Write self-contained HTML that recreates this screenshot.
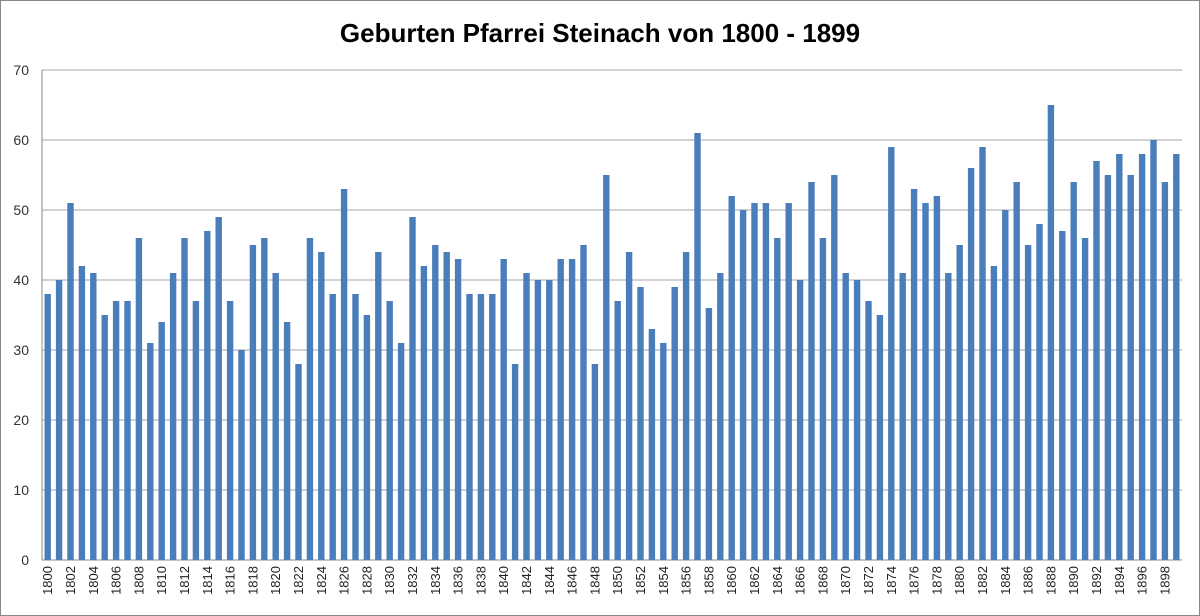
<!DOCTYPE html>
<html><head><meta charset="utf-8"><style>
html,body{margin:0;padding:0;background:#fff}
svg{display:block}
</style></head><body>
<svg id="chart" width="1200" height="616" viewBox="0 0 1200 616" xmlns="http://www.w3.org/2000/svg" font-family="Liberation Sans, sans-serif">
<rect x="0.5" y="0.5" width="1199" height="615" fill="#fff" stroke="#888" stroke-width="1"/>
<text x="600" y="42" text-anchor="middle" font-size="26" font-weight="bold" fill="#000">Geburten Pfarrei Steinach von 1800 - 1899</text>
<g id="grid"></g><g id="bars"></g><g id="yt"></g><g id="xt"></g>
</svg>
<script>
const years = [];
for (let y = 1800; y <= 1899; y++) years.push(y);
const births = [38,40,51,42,41,35,37,37,46,31,34,41,46,37,47,49,37,30,45,46,41,34,28,46,44,38,53,38,35,44,37,31,49,42,45,44,43,38,38,38,43,28,41,40,40,43,43,45,28,55,37,44,39,33,31,39,44,61,36,41,52,50,51,51,46,51,40,54,46,55,41,40,37,35,59,41,53,51,52,41,45,56,59,42,50,54,45,48,65,47,54,46,57,55,58,55,58,60,54,58];
const yTicks = [0,10,20,30,40,50,60,70];

const NS = 'http://www.w3.org/2000/svg';
const L = 42, R = 1182, Y0 = 560, Y1 = 70, YMAX = 70;
const slot = (R - L) / years.length;
const yS = v => Y0 - (v / YMAX) * (Y0 - Y1);
const xS = i => L + slot * (i + 0.5);
function mk(tag, attrs) { const e = document.createElementNS(NS, tag); for (const k in attrs) e.setAttribute(k, attrs[k]); return e; }

const grid = document.getElementById('grid');
const yt = document.getElementById('yt');
yTicks.forEach(t => {
  const ln = mk('line', {x1: L, x2: R, y1: yS(t), y2: yS(t), stroke: t === 0 ? '#888' : '#a6a6a6', 'stroke-width': 1});
  
  
  grid.appendChild(ln);
  const tx = mk('text', {x: 29, y: yS(t) + 5, 'text-anchor': 'end', 'font-size': 14, fill: '#333'});
  tx.textContent = t;
  
  
  yt.appendChild(tx);
});
const axis = mk('line', {x1: L, x2: L, y1: Y1, y2: Y0, stroke: '#888', 'stroke-width': 1});


grid.appendChild(axis);

const bars = document.getElementById('bars');
const xt = document.getElementById('xt');
births.forEach((v, i) => {
  const bw = 6.4;
  const r = mk('rect', {x: xS(i) - bw / 2, y: yS(v), width: bw, height: Y0 - yS(v), fill: '#4a7ebb'});
  
  
  bars.appendChild(r);
  if (i % 2 === 0) {
    const x = xS(i) + 4.5, y = 566;
    const tx = mk('text', {x: x, y: y, 'text-anchor': 'end', 'font-size': 13, fill: '#222', transform: 'rotate(-90 ' + x + ' ' + y + ')'});
    tx.textContent = years[i];
    
    
    xt.appendChild(tx);
  }
});
</script>
</body></html>
